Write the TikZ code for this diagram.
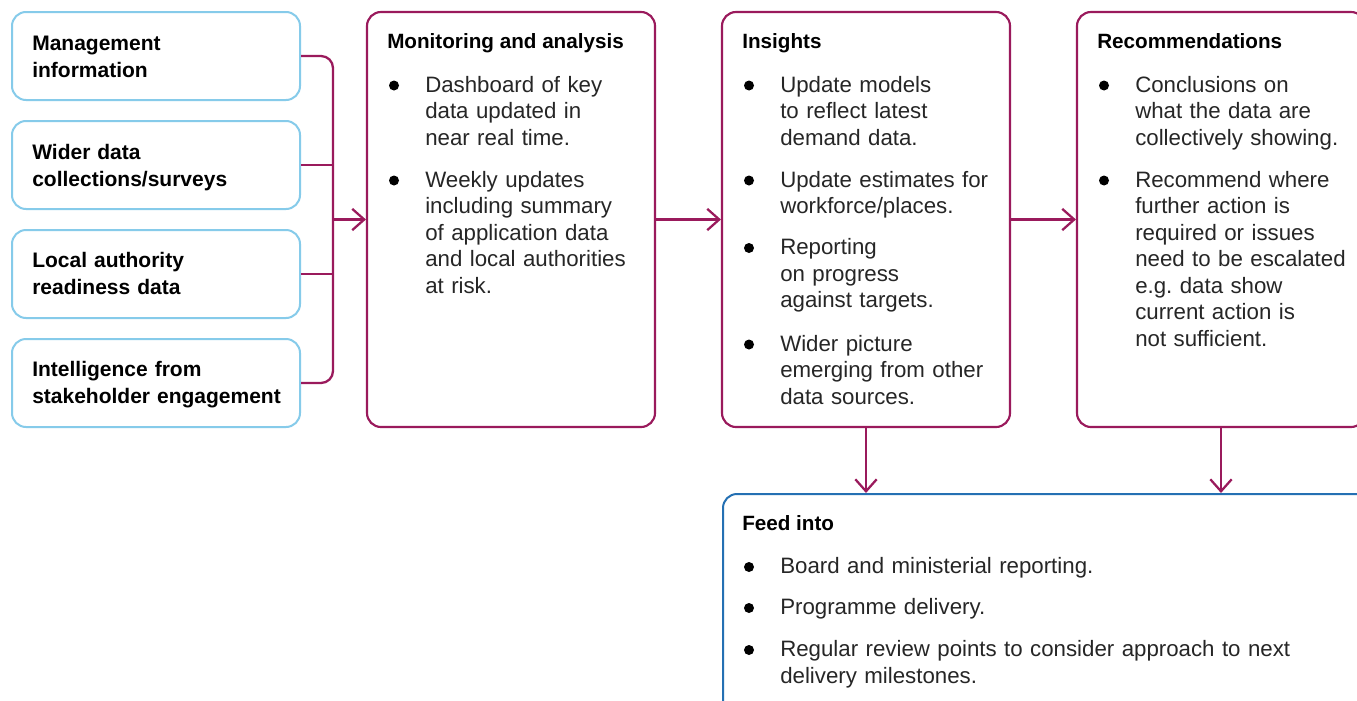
\documentclass[tikz,border=0pt]{standalone}
\usepackage{fontspec}
\setmainfont{Liberation Sans}
\usetikzlibrary{arrows.meta}
\frenchspacing
\definecolor{plum}{HTML}{9A1A5C}
\definecolor{lblue}{HTML}{86CBEA}
\definecolor{dblue}{HTML}{2470B3}
\definecolor{bodytext}{HTML}{262626}
\tikzset{
  srcbox/.style={draw=lblue, line width=1.5pt, rounded corners=10.5pt, minimum width=216pt, minimum height=66pt, inner sep=0pt},
  bigbox/.style={draw=plum, line width=1.6pt, rounded corners=10.5pt, minimum width=216pt, minimum height=311.25pt, inner sep=0pt},
  feedbox/.style={draw=dblue, line width=1.5pt, rounded corners=10.5pt, minimum width=700pt, minimum height=200pt, inner sep=0pt, anchor=north west},
  srctext/.style={anchor=base west, inner sep=0pt, text width=195pt, align=left, font=\bfseries\fontsize{15.75}{20.25}\selectfont, text=black},
  boxtitle/.style={anchor=base west, inner sep=0pt, font=\bfseries\fontsize{15.5}{19}\selectfont, text=black},
  itemtext/.style={anchor=base west, inner sep=0pt, text width=200pt, align=left, font=\fontsize{16.7}{19.9}\selectfont, text=bodytext},
  conn/.style={draw=plum, line width=1.7pt},
  arr/.style={conn, -{Straight Barb[length=9pt,width=16pt,line width=1.7pt]}},
}
\newcommand{\bul}[1]{\fill[black] (#1.base west) ++(-31,-6.5) circle (5);}
\begin{document}
\begin{tikzpicture}[x=0.75pt,y=-0.75pt]
\useasboundingbox (0,0) rectangle (1357,700);
\clip (0,0) rectangle (1357,700);
\fill[white] (0,0) rectangle (1357,700);
% source boxes
\node[srcbox] (s1) at (156,56) {};
\node[srcbox] (s2) at (156,165) {};
\node[srcbox] (s3) at (156,274) {};
\node[srcbox] (s4) at (156,383) {};
\node[srctext] (t1) at (32,50.5) {Management\\information};
\node[srctext] (t2) at (32,159.5) {Wider data\\collections/surveys};
\node[srctext] (t3) at (32,267.5) {Local authority\\readiness data};
\node[srctext] (t4) at (32,376.5) {Intelligence from\\stakeholder engagement};
% big boxes
\node[bigbox] (mon) at (511,219.5) {};
\node[bigbox] (ins) at (866,219.5) {};
\node[bigbox] (rec) at (1221,219.5) {};
\node[feedbox] (feed) at (722,493) {};
% bracket and arrows
\coordinate (bx) at (333,219.5);
\draw[conn, rounded corners=9pt] (s1.east) -| (bx) |- (s4.east);
\draw[conn] (s2.east) -- (s2.east -| bx);
\draw[conn] (s3.east) -- (s3.east -| bx);
\draw[arr] (bx) -- (mon.west);
\draw[arr] (mon.east) -- (ins.west);
\draw[arr] (ins.east) -- (rec.west);
\draw[arr] (ins.south) -- (ins.south |- feed.north);
\draw[arr] (rec.south) -- (rec.south |- feed.north);
% monitoring
\node[boxtitle] (mt) at (387,48.5) {Monitoring and analysis};
\node[itemtext] (m1) at (425,92) {Dashboard of key\\data updated in\\near real time.};
\node[itemtext] (m2) at (425,187) {Weekly updates\\including summary\\of application data\\and local authorities\\at risk.};
\bul{m1}\bul{m2}
% insights
\node[boxtitle] (it) at (742,48.5) {Insights};
\node[itemtext] (i1) at (780,92) {Update models\\to reflect latest\\demand data.};
\node[itemtext] (i2) at (780,187) {Update estimates for\\workforce/places.};
\node[itemtext] (i3) at (780,254.5) {Reporting\\on progress\\against targets.};
\node[itemtext] (i4) at (780,351) {Wider picture\\emerging from other\\data sources.};
\bul{i1}\bul{i2}\bul{i3}\bul{i4}
% recommendations
\node[boxtitle] (rt) at (1097,48.5) {Recommendations};
\node[itemtext] (r1) at (1135,92) {Conclusions on\\what the data are\\collectively showing.};
\node[itemtext] (r2) at (1135,187) {Recommend where\\further action is\\required or issues\\need to be escalated\\e.g. data show\\current action is\\not sufficient.};
\bul{r1}\bul{r2}
% feed into
\node[boxtitle] (ft) at (742,530) {Feed into};
\node[itemtext, text width=420pt] (f1) at (780,573.5) {Board and ministerial reporting.};
\node[itemtext, text width=420pt] (f2) at (780,614.5) {Programme delivery.};
\node[itemtext, text width=420pt] (f3) at (780,656.5) {Regular review points to consider approach to next\\delivery milestones.};
\bul{f1}\bul{f2}\bul{f3}
\end{tikzpicture}
\end{document}
